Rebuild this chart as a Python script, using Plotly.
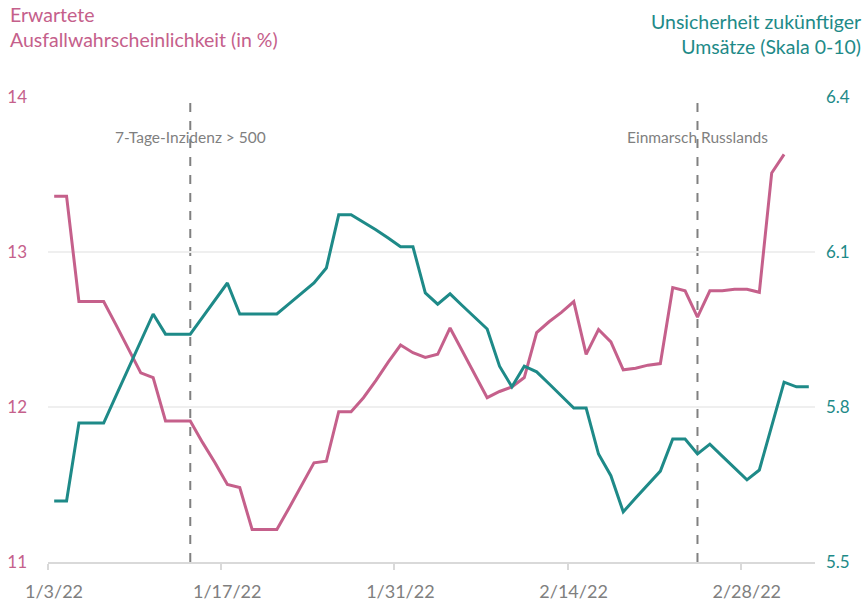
import pandas as pd
import plotly.graph_objects as go

# ---- data ----
start_date = "2022-01-03"
pink_values = [13.36, 13.36, 12.68, 12.68, 12.68, 12.53, 12.37, 12.22, 12.19, 11.91,
               11.91, 11.91, 11.77, 11.64, 11.50, 11.48, 11.21, 11.21, 11.21, 11.35,
               11.50, 11.64, 11.65, 11.97, 11.97, 12.06, 12.17, 12.29, 12.40, 12.35,
               12.32, 12.34, 12.51, 12.36, 12.21, 12.06, 12.10, 12.13, 12.19, 12.48,
               12.55, 12.61, 12.68, 12.34, 12.50, 12.42, 12.24, 12.25, 12.27, 12.28,
               12.77, 12.75, 12.58, 12.75, 12.75, 12.76, 12.76, 12.74, 13.51, 13.63]
teal_values = [5.618, 5.618, 5.769, 5.769, 5.769, 5.822, 5.875, 5.927, 5.980, 5.941,
               5.941, 5.941, 5.974, 6.007, 6.040, 5.980, 5.980, 5.980, 5.980, 6.000,
               6.020, 6.040, 6.069, 6.172, 6.172, 6.158, 6.143, 6.127, 6.110, 6.110,
               6.021, 5.999, 6.019, 5.996, 5.974, 5.951, 5.879, 5.839, 5.879, 5.868,
               5.845, 5.822, 5.798, 5.798, 5.709, 5.667, 5.597, 5.624, 5.651, 5.676,
               5.738, 5.738, 5.709, 5.728, 5.705, 5.682, 5.659, 5.678, 5.763, 5.848,
               5.839, 5.839]
pink_name = "Erwartete Ausfallwahrscheinlichkeit (in %)"
teal_name = "Unsicherheit zukünftiger Umsätze (Skala 0-10)"
x_tick_dates = ["2022-01-03", "2022-01-17", "2022-01-31", "2022-02-14", "2022-02-28"]
x_tick_labels = ["1/3/22", "1/17/22", "1/31/22", "2/14/22", "2/28/22"]
left_ticks = [11, 12, 13, 14]
right_ticks = [5.5, 5.8, 6.1, 6.4]
event_dates = ["2022-01-14", "2022-02-24"]
event_labels = ["7-Tage-Inzidenz > 500", "Einmarsch Russlands"]
x_range = ["2022-01-02 12:00", "2022-03-05 12:00"]

PINK = "#C5608B"
TEAL = "#1E8A88"
GRAY = "#7F7F7F"
FONT = "Lato"

pink_dates = pd.date_range(start_date, periods=len(pink_values), freq="D")
teal_dates = pd.date_range(start_date, periods=len(teal_values), freq="D")
# ticks sit at the day boundaries, labels at the day itself
tick_positions = [pd.Timestamp(d) - pd.Timedelta(hours=12) for d in x_tick_dates]

fig = go.Figure()
fig.add_trace(go.Scatter(x=pink_dates, y=pink_values, name=pink_name, mode="lines",
                         line=dict(color=PINK, width=3), yaxis="y"))
fig.add_trace(go.Scatter(x=teal_dates, y=teal_values, name=teal_name, mode="lines",
                         line=dict(color=TEAL, width=3), yaxis="y2"))

for d, lab in zip(event_dates, event_labels):
    fig.add_shape(type="line", xref="x", yref="paper", x0=d, x1=d, y0=0, y1=1,
                  line=dict(color="#808080", width=2, dash="dash"), layer="below")
    fig.add_annotation(x=d, xref="x", y=0.914, yref="paper", text=lab, showarrow=False,
                       font=dict(family=FONT, size=15.5, color=GRAY), xanchor="center", yanchor="middle")

fig.add_annotation(x=-0.052, xref="paper", y=1.095, yref="paper", xanchor="left", yanchor="bottom",
                   align="left", showarrow=False,
                   text="Erwartete<br>Ausfallwahrscheinlichkeit (in %)",
                   font=dict(family=FONT, size=19.5, color=PINK))
fig.add_annotation(x=1.0626, xref="paper", y=1.08, yref="paper", xanchor="right", yanchor="bottom",
                   align="right", showarrow=False,
                   text="Unsicherheit zukünftiger<br>Umsätze (Skala 0-10)",
                   font=dict(family=FONT, size=19.5, color=TEAL))

fig.update_layout(
    width=866, height=604,
    margin=dict(l=48, r=51, t=97, b=42, autoexpand=False),
    paper_bgcolor="white", plot_bgcolor="white",
    showlegend=False,
    font=dict(family=FONT),
    xaxis=dict(
        type="date", range=x_range, automargin=False,
        tickvals=tick_positions, ticktext=x_tick_labels,
        ticklabelshift=6, ticklabelstandoff=6,
        ticks="outside", ticklen=6, tickwidth=1.5, tickcolor="#D9D9D9",
        showline=True, linecolor="#D9D9D9", linewidth=2,
        showgrid=False, zeroline=False,
        tickfont=dict(family=FONT, size=18, color=GRAY),
    ),
    yaxis=dict(
        range=[11, 14], tickvals=left_ticks, automargin=False,
        showgrid=True, gridcolor="#EFEFEF", gridwidth=2,
        zeroline=False, showline=False, ticks="",
        ticklabelstandoff=20,
        tickfont=dict(family=FONT, size=17, color=PINK),
    ),
    yaxis2=dict(
        range=[5.5, 6.4], tickvals=right_ticks, tickformat=".1f", automargin=False,
        overlaying="y", side="right",
        showgrid=False, zeroline=False, showline=False, ticks="",
        ticklabelstandoff=10,
        tickfont=dict(family=FONT, size=17, color=TEAL),
    ),
)

fig.write_html("out.html",
               config={"displayModeBar": False},
               post_script="document.body.style.margin='0';document.body.style.overflow='hidden';")
